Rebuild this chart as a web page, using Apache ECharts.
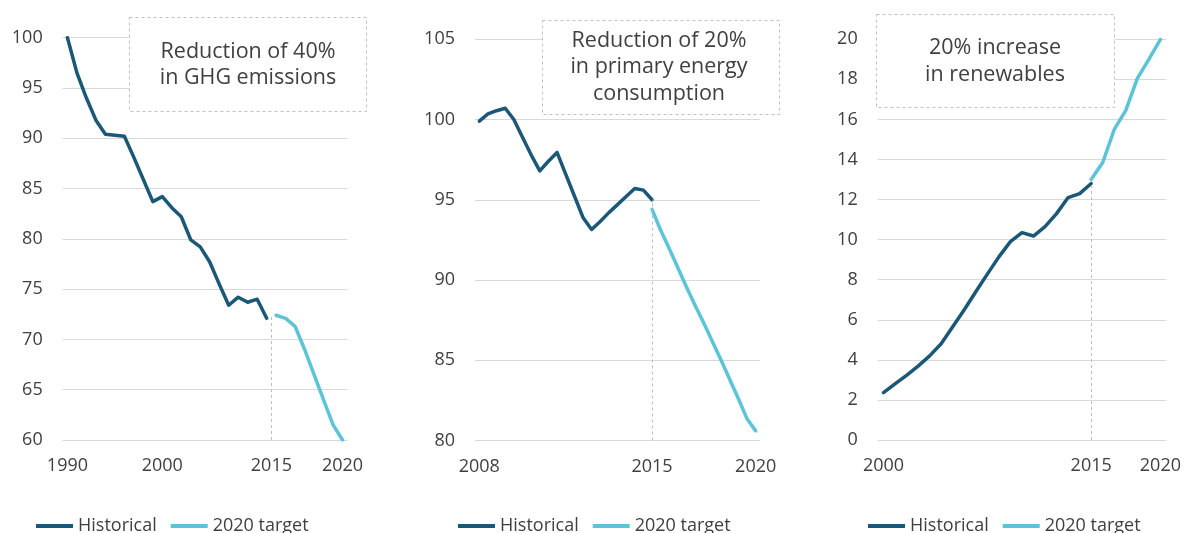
<!DOCTYPE html>
<html>
<head>
<meta charset="utf-8">
<script src="https://cdn.jsdelivr.net/npm/echarts@6/dist/echarts.min.js"></script>
<style>
  html, body { margin: 0; padding: 0; background: #ffffff; }
  #chart { width: 1184px; height: 533px; }
</style>
</head>
<body>
<div id="chart"></div>
<script>
// ---- GHG emissions index (1990 = 100) ----
const ghgHistorical = [100, 96.5, 94.0, 91.8, 90.4, 90.3, 90.2, 88.1, 85.9, 83.7, 84.2, 83.1,
                       82.2, 79.9, 79.2, 77.7, 75.5, 73.4, 74.2, 73.7, 74.0, 72.1];
const ghgTarget = [72.4, 72.1, 71.3, 69.0, 66.5, 64.0, 61.5, 60.0];
const ghgTargetStart = 22;          // category index where the target path begins
const ghgDivider = 21.5;            // 2015 split between history and target
const ghgTickAt = [0, 10, 21.5, 29];
const ghgTickText = ['1990', '2000', '2015', '2020'];

// ---- Primary energy consumption index (2008 = 100) ----
const energyHistorical = [99.9, 100.35, 100.55, 100.7, 100.0, 98.9, 97.8, 96.8, 97.4, 97.95, 96.6,
                          95.25, 93.9, 93.15, 93.65, 94.2, 94.7, 95.2, 95.7, 95.6, 95.0];
const energyTarget = [94.4, 93.1, 91.95, 90.75, 89.55, 88.4, 87.3, 86.15, 85.0, 83.8, 82.6, 81.35, 80.6];
const energyTargetStart = 20;
const energyDivider = 20;
const energyTickAt = [0, 20, 32];
const energyTickText = ['2008', '2015', '2020'];

// ---- Share of renewables (%) ----
const renewHistorical = [2.36, 2.8, 3.23, 3.69, 4.2, 4.8, 5.65, 6.5, 7.4, 8.28, 9.14, 9.9,
                         10.35, 10.18, 10.65, 11.3, 12.1, 12.3, 12.8];
const renewTarget = [13.0, 13.85, 15.5, 16.45, 18.05, 19.0, 20.0];
const renewTargetStart = 18;
const renewDivider = 18;
const renewTickAt = [0, 18, 24];
const renewTickText = ['2000', '2015', '2020'];

const seriesNames = ['Historical', '2020 target'];

// ---- styling ----
const FONT = 'Open Sans';
const TEXT = '#404040';
const GRID_LINE = '#d9d9d9';
const DARK = '#1b5877';
const LIGHT = '#5cc4d6';
const DASH = '#bdbdbd';

const panels = [
  {
    hist: ghgHistorical, target: ghgTarget, start: ghgTargetStart, divider: ghgDivider,
    tickAt: ghgTickAt, tickText: ghgTickText, yMin: 60, yMax: 100, yStep: 5,
    grid: { left: 62.7, top: 37.7, width: 284.6, height: 402.3 },
    legendLeft: 36,
    box: { x: 129.5, y: 17.5, w: 237, h: 94, tx: 248, ty: 65, text: 'Reduction of 40%\nin GHG emissions' }
  },
  {
    hist: energyHistorical, target: energyTarget, start: energyTargetStart, divider: energyDivider,
    tickAt: energyTickAt, tickText: energyTickText, yMin: 80, yMax: 105, yStep: 5,
    grid: { left: 475, top: 39.3, width: 285, height: 401.2 },
    legendLeft: 458,
    box: { x: 542.5, y: 20.5, w: 237, h: 94, tx: 659, ty: 67, text: 'Reduction of 20%\nin primary energy\nconsumption' }
  },
  {
    hist: renewHistorical, target: renewTarget, start: renewTargetStart, divider: renewDivider,
    tickAt: renewTickAt, tickText: renewTickText, yMin: 0, yMax: 20, yStep: 2,
    grid: { left: 877.7, top: 39.3, width: 294, height: 400.7 },
    legendLeft: 868,
    box: { x: 876.5, y: 14.5, w: 238, h: 93, tx: 995, ty: 61.5, text: '20% increase\nin renewables' }
  }
];

const option = {
  animation: false,
  backgroundColor: '#ffffff',
  grid: [], xAxis: [], yAxis: [], series: [], legend: [], graphic: []
};

panels.forEach((p, k) => {
  const count = Math.max(p.hist.length, p.start + p.target.length);
  const histPts = p.hist.map((v, i) => [i, v]);
  const targetPts = p.target.map((v, i) => [p.start + i, v]);
  const dividerTop = Math.max(p.hist[p.hist.length - 1], p.target[0]);

  option.grid.push(Object.assign({ containLabel: false }, p.grid));

  option.xAxis.push({
    type: 'value',
    gridIndex: k,
    min: -0.5,
    max: count - 0.5,
    axisLine: { show: false },
    axisTick: { show: false },
    splitLine: { show: false },
    axisLabel: {
      customValues: p.tickAt,
      margin: 17,
      color: TEXT,
      fontFamily: FONT,
      fontSize: 18,
      formatter: (v) => {
        const j = p.tickAt.indexOf(v);
        return j >= 0 ? p.tickText[j] : '';
      }
    }
  });

  option.yAxis.push({
    type: 'value',
    gridIndex: k,
    min: p.yMin,
    max: p.yMax,
    interval: p.yStep,
    axisLine: { show: false },
    axisTick: { show: false },
    axisLabel: { margin: 20, color: TEXT, fontFamily: FONT, fontSize: 18 },
    splitLine: { lineStyle: { color: GRID_LINE, width: 1 } }
  });

  option.series.push({
    name: seriesNames[0],
    type: 'line',
    xAxisIndex: k, yAxisIndex: k,
    data: histPts,
    symbol: 'none',
    lineStyle: { color: DARK, width: 3.5, join: 'round', cap: 'round' },
    itemStyle: { color: DARK },
    z: 3,
    markLine: {
      silent: true,
      symbol: 'none',
      label: { show: false },
      lineStyle: { color: DASH, width: 1, type: [3, 3] },
      data: [[{ coord: [p.divider, p.yMin] }, { coord: [p.divider, dividerTop] }]]
    }
  });

  option.series.push({
    name: seriesNames[1],
    type: 'line',
    xAxisIndex: k, yAxisIndex: k,
    data: targetPts,
    symbol: 'none',
    lineStyle: { color: LIGHT, width: 3.5, join: 'round', cap: 'round' },
    itemStyle: { color: LIGHT },
    z: 3
  });

  option.legend.push({
    data: seriesNames,
    left: p.legendLeft,
    top: 517,
    padding: 0,
    icon: 'rect',
    itemWidth: 37,
    itemHeight: 4,
    itemGap: 14,
    selectedMode: false,
    textStyle: { color: TEXT, fontFamily: FONT, fontSize: 18 }
  });

  // annotation box: white fill so it sits above the grid lines
  option.graphic.push({
    type: 'rect',
    z: 100,
    shape: { x: p.box.x, y: p.box.y, width: p.box.w, height: p.box.h },
    style: { fill: '#ffffff', stroke: '#bfbfbf', lineWidth: 1, lineDash: [3, 3] }
  });
  option.graphic.push({
    type: 'text',
    z: 101,
    x: p.box.tx,
    y: p.box.ty,
    style: {
      text: p.box.text,
      fill: TEXT,
      fontFamily: FONT,
      fontSize: 21.5,
      lineHeight: 26.5,
      align: 'center',
      verticalAlign: 'middle',
      textAlign: 'center',
      textVerticalAlign: 'middle'
    }
  });
});

const chart = echarts.init(document.getElementById('chart'), null, { renderer: 'canvas' });
chart.setOption(option);
</script>
</body>
</html>
